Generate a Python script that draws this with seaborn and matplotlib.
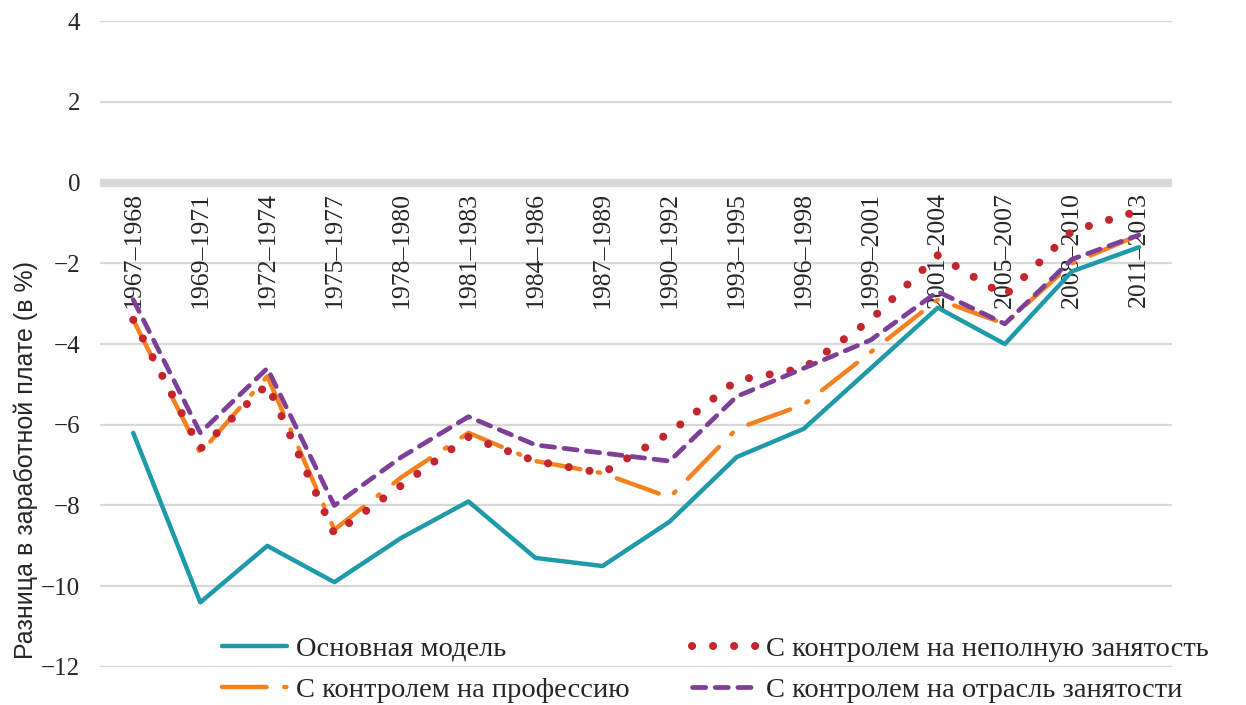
import matplotlib
matplotlib.use("Agg")
import matplotlib.pyplot as plt
import seaborn as sns
import numpy as np

# periods on the x axis
periods = ["1967–1968", "1969–1971", "1972–1974", "1975–1977", "1978–1980",
           "1981–1983", "1984–1986", "1987–1989", "1990–1992", "1993–1995",
           "1996–1998", "1999–2001", "2001–2004", "2005–2007", "2008–2010",
           "2011–2013"]

# wage gap, %
base_model = [-6.2, -10.4, -9.0, -9.9, -8.8, -7.9, -9.3, -9.5, -8.4, -6.8,
              -6.1, -4.6, -3.1, -4.0, -2.2, -1.6]
ctrl_occupation = [-3.4, -6.7, -4.8, -8.6, -7.3, -6.2, -6.9, -7.2, -7.8, -6.1,
                   -5.5, -4.2, -2.9, -3.5, -2.0, -1.3]
ctrl_parttime = [-3.4, -6.6, -5.0, -8.7, -7.5, -6.3, -6.9, -7.2, -6.2, -4.9,
                 -4.6, -3.4, -1.8, -2.8, -1.2, -0.7]
ctrl_industry = [-2.9, -6.2, -4.6, -8.0, -6.8, -5.8, -6.5, -6.7, -6.9, -5.3,
                 -4.6, -3.9, -2.7, -3.5, -1.9, -1.3]

labels = ["Основная модель", "С контролем на профессию",
          "С контролем на неполную занятость", "С контролем на отрасль занятости"]
colors = ["#1f9aa8", "#f5821f", "#c4262e", "#7e3f98"]

sns.set_style("white")
plt.rcParams['font.family'] = ['Liberation Serif', 'DejaVu Serif']

fig = plt.figure(figsize=(12.46, 7.05), dpi=100)
ax = fig.add_axes([0.080, 0.054, 0.861, 0.916])

x = np.arange(len(periods))

sns.lineplot(x=x, y=base_model, ax=ax, color=colors[0], linewidth=3.2,
             label=labels[0], solid_capstyle='round')
sns.lineplot(x=x, y=ctrl_occupation, ax=ax, color=colors[1], linewidth=3.2,
             label=labels[1], linestyle=(0, (10, 4, 0.5, 4)),
             dash_capstyle='round')
sns.lineplot(x=x, y=ctrl_parttime, ax=ax, color=colors[2], linewidth=5.8,
             label=labels[2], linestyle=(0, (0.01, 2.6)), dash_capstyle='round')
sns.lineplot(x=x, y=ctrl_industry, ax=ax, color=colors[3], linewidth=3.4,
             label=labels[3], linestyle=(0, (2.8, 2.0)), dash_capstyle='round')

ax.set_xlim(-0.5, len(periods) - 0.5)
ax.set_ylim(-12, 4)
ax.set_yticks(range(-12, 5, 2))
ax.set_yticklabels([str(v).replace("-", "−") for v in range(-12, 5, 2)],
                   fontsize=18)
ax.tick_params(axis='y', length=0, pad=14)
ax.tick_params(axis='x', bottom=False, labelbottom=False)
ax.grid(axis='y', color='#d9d9d9', linewidth=1.6, zorder=0)
ax.grid(axis='x', visible=False)
ax.axhline(0, color='#d9d9d9', linewidth=6, zorder=0.5)
for s in ax.spines.values():
    s.set_visible(False)
ax.set_xlabel("")

# period labels hang from the zero line
for i, p in enumerate(periods):
    ax.annotate(p, (i, 0), xytext=(0, -7), textcoords='offset points',
                rotation=90, ha='center', va='top', fontsize=18.5, zorder=1)

fig.text(0.021, 0.347, "Разница в заработной плате (в %)", rotation=90,
         ha='center', va='center', fontsize=18, family=['Liberation Sans'])

leg = ax.legend(loc='upper left', bbox_to_anchor=(0.1664, 0.1185),
                bbox_transform=fig.transFigure, ncol=2, frameon=False,
                fontsize=20.5, handlelength=2.3, handletextpad=0.3,
                columnspacing=2.2, labelspacing=0.55, borderpad=0)

fig.savefig("out.png", dpi=100)
